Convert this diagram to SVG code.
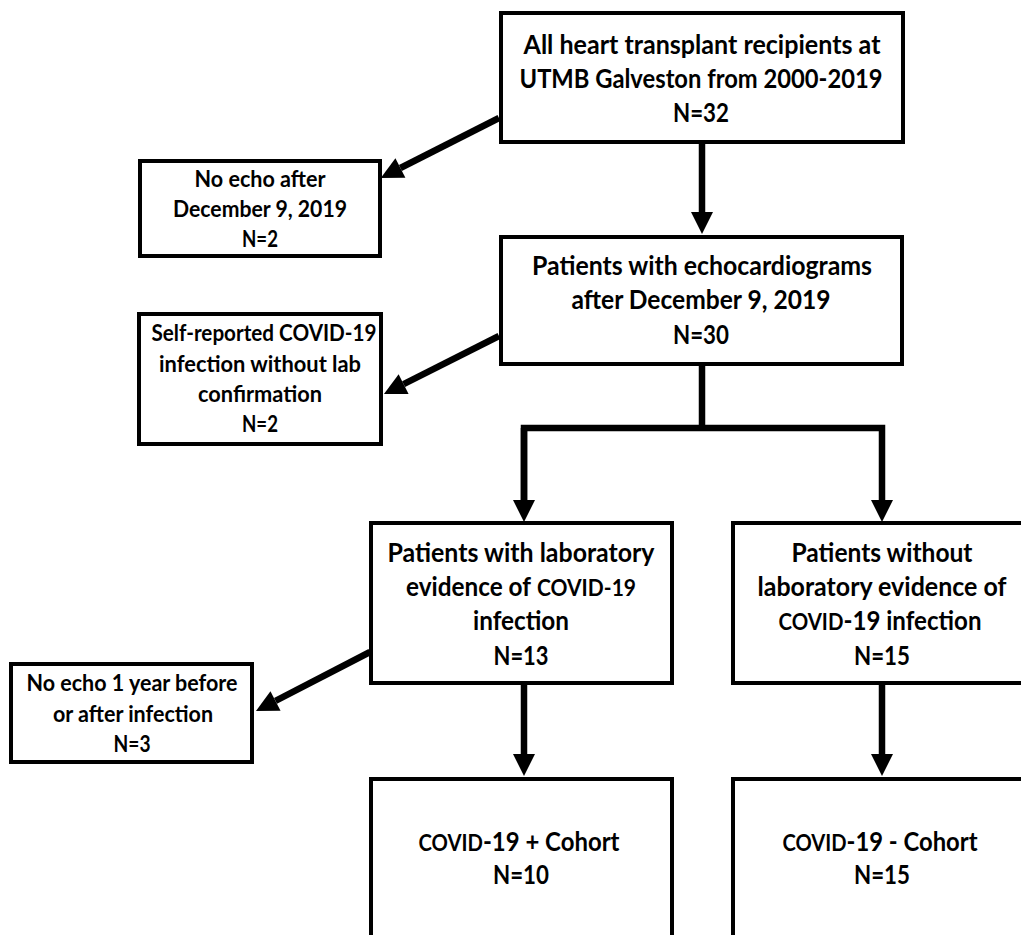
<svg xmlns="http://www.w3.org/2000/svg" width="1021" height="935" viewBox="0 0 1021 935">
<style>
.box{fill:#fff;stroke:#000;stroke-width:4}
.t{font-family:Lato,"Liberation Sans",sans-serif;font-weight:bold;fill:#000;text-anchor:middle;font-size:26px}
.st{text-anchor:start}
.s{font-size:23px}
.sc{font-size:22px}
.conn{fill:none;stroke:#000;stroke-width:6.5;stroke-linejoin:miter;stroke-linecap:butt}
</style>
<defs>
<marker id="ah" markerUnits="userSpaceOnUse" markerWidth="23" markerHeight="23" refX="0" refY="11" orient="auto" overflow="visible">
<path d="M0,0 L22,11 L0,22 z" fill="#000"/>
</marker>
</defs>
<rect width="1021" height="935" fill="#fff"/>
<g id="connectors">
<path class="conn" d="M499,118 L400.4,168" marker-end="url(#ah)"/>
<path class="conn" d="M499,336 L403.6,384.1" marker-end="url(#ah)"/>
<path class="conn" d="M370,652 L275.5,700.9" marker-end="url(#ah)"/>
<path class="conn" d="M702,143 V212" marker-end="url(#ah)"/>
<path class="conn" d="M702,365 V428"/>
<path class="conn" d="M524,500 V428 H882 V500" marker-end="url(#ah)"/>
<path class="conn" d="M524,428 V500" marker-end="url(#ah)"/>
<path class="conn" d="M524,684 V754" marker-end="url(#ah)"/>
<path class="conn" d="M882,684 V754" marker-end="url(#ah)"/>
</g>
<g id="n_all">
<rect class="box" x="501" y="13" width="402" height="129"/>
<text class="t" x="702" y="54" textLength="357" lengthAdjust="spacingAndGlyphs">All heart transplant recipients at</text>
<text class="t" x="701" y="88" textLength="363" lengthAdjust="spacingAndGlyphs">UTMB Galveston from 2000-2019</text>
<text class="t" x="701" y="122" textLength="56" lengthAdjust="spacingAndGlyphs">N=32</text>
</g>
<g id="n_noecho">
<rect class="box" x="140" y="161" width="240" height="95"/>
<text class="t s" x="260" y="187" textLength="131" lengthAdjust="spacingAndGlyphs">No echo after</text>
<text class="t s" x="260" y="217" textLength="174" lengthAdjust="spacingAndGlyphs">December 9, 2019</text>
<text class="t s" x="260" y="247" textLength="36" lengthAdjust="spacingAndGlyphs">N=2</text>
</g>
<g id="n_echo">
<rect class="box" x="501" y="237" width="401" height="127"/>
<text class="t" x="702" y="275" textLength="340" lengthAdjust="spacingAndGlyphs">Patients with echocardiograms</text>
<text class="t" x="701" y="309" textLength="259" lengthAdjust="spacingAndGlyphs">after December 9, 2019</text>
<text class="t" x="701" y="344" textLength="56" lengthAdjust="spacingAndGlyphs">N=30</text>
</g>
<g id="n_self">
<rect class="box" x="139" y="314" width="242" height="130"/>
<text class="t s" x="264" y="341" textLength="225" lengthAdjust="spacingAndGlyphs">Self-reported COVID-19</text>
<text class="t s" x="260" y="372" textLength="202" lengthAdjust="spacingAndGlyphs">infection without lab</text>
<text class="t s" x="260" y="402" textLength="124" lengthAdjust="spacingAndGlyphs">confirmation</text>
<text class="t s" x="260" y="432" textLength="36" lengthAdjust="spacingAndGlyphs">N=2</text>
</g>
<g id="n_lab_pos">
<rect class="box" x="371" y="523" width="301" height="160"/>
<text class="t" x="521" y="562" textLength="267" lengthAdjust="spacingAndGlyphs">Patients with laboratory</text>
<text class="t st" x="406" y="596" textLength="125" lengthAdjust="spacingAndGlyphs">evidence of</text>
<text class="t st sc" x="537" y="596" textLength="99" lengthAdjust="spacingAndGlyphs">COVID-19</text>
<text class="t" x="521" y="630" textLength="96" lengthAdjust="spacingAndGlyphs">infection</text>
<text class="t" x="521" y="665" textLength="55" lengthAdjust="spacingAndGlyphs">N=13</text>
</g>
<g id="n_lab_neg">
<rect class="box" x="733" y="523" width="300" height="160"/>
<text class="t" x="882" y="562" textLength="181" lengthAdjust="spacingAndGlyphs">Patients without</text>
<text class="t" x="882" y="596" textLength="249" lengthAdjust="spacingAndGlyphs">laboratory evidence of</text>
<text class="t" x="880" y="630" textLength="203" lengthAdjust="spacingAndGlyphs"><tspan class="sc">COVID</tspan>-19 infection</text>
<text class="t" x="882" y="665" textLength="56" lengthAdjust="spacingAndGlyphs">N=15</text>
</g>
<g id="n_noecho_year">
<rect class="box" x="11" y="664" width="241" height="98"/>
<text class="t s" x="132" y="691" textLength="211" lengthAdjust="spacingAndGlyphs">No echo 1 year before</text>
<text class="t s" x="133" y="722" textLength="160" lengthAdjust="spacingAndGlyphs">or after infection</text>
<text class="t s" x="132" y="752" textLength="37" lengthAdjust="spacingAndGlyphs">N=3</text>
</g>
<g id="n_cohort_pos">
<rect class="box" x="371" y="779" width="301" height="200"/>
<text class="t" x="519" y="851" textLength="201" lengthAdjust="spacingAndGlyphs"><tspan class="sc">COVID</tspan>-19 + Cohort</text>
<text class="t" x="521" y="884" textLength="56" lengthAdjust="spacingAndGlyphs">N=10</text>
</g>
<g id="n_cohort_neg">
<rect class="box" x="733" y="779" width="300" height="200"/>
<text class="t" x="880" y="851" textLength="195" lengthAdjust="spacingAndGlyphs"><tspan class="sc">COVID</tspan>-19 - Cohort</text>
<text class="t" x="882" y="884" textLength="56" lengthAdjust="spacingAndGlyphs">N=15</text>
</g>
</svg>
